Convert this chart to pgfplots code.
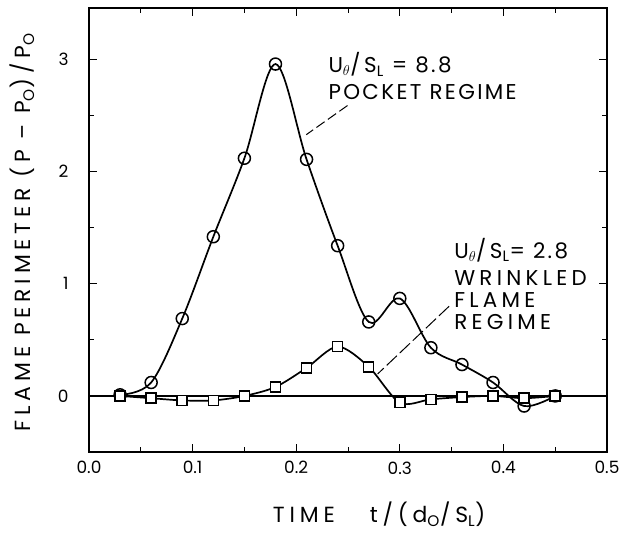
\documentclass[border=0pt]{standalone}
\usepackage{fontspec}
\setmainfont{Poppins}
\newfontfamily\lab[LetterSpace=22]{Poppins}
\newfontfamily\ann[LetterSpace=11]{Poppins}
\newfontfamily\annw[LetterSpace=20]{Poppins}
\usepackage{pgfplots}
\pgfplotsset{compat=1.18}
\newcommand{\sub}[1]{\textsubscript{#1}}

\begin{document}
\begin{tikzpicture}
  \begin{axis}[
    name=ax,
    scale only axis,
    width=518bp, height=444bp,
    xmin=0, xmax=0.5, ymin=-0.5, ymax=3.46,
    xtick={0,0.1,0.2,0.3,0.4,0.5},
    xticklabels={0.0,0.1,0.2,0.3,0.4,0.5},
    ytick={0,1,2,3},
    yticklabels={0,1,2,3},
    minor x tick num=1, minor y tick num=1,
    tick align=inside,
    major tick length=8bp, minor tick length=5bp,
    axis line style={line width=1.1bp},
    tick style={line width=1bp, black},
    tick label style={font=\fontsize{17}{20}\selectfont},
    xticklabel style={yshift=-6bp},
    yticklabel style={xshift=-17bp},
    xlabel={\lab TIME\hspace{1.6em}t/(d\sub{O}/S\sub{L})},
    ylabel={\lab FLAME PERIMETER (P – P\sub{O})/P\sub{O}},
    label style={font=\fontsize{22}{25}\selectfont},
    xlabel style={at={(axis description cs:0.56,-0.141)}, anchor=center},
    ylabel style={at={(axis description cs:-0.129,0.495)}, anchor=center},
    clip=false,
  ]
    % zero line
    \addplot[black, line width=1.2bp] coordinates {(0,0) (0.5,0)};

    % pocket regime, U/S = 8.8
    \addplot[black, line width=1.7bp, smooth, tension=0.55,
      mark=o, mark size=6bp, mark options={fill=white, line width=1.5bp}]
      coordinates {(0.03,0.01) (0.06,0.12) (0.09,0.69) (0.12,1.42) (0.15,2.12)
        (0.18,2.96) (0.21,2.11) (0.24,1.34) (0.27,0.66) (0.30,0.87)
        (0.33,0.43) (0.36,0.28) (0.39,0.12) (0.42,-0.09) (0.45,0.0)};

    % wrinkled flame regime, U/S = 2.8
    \addplot[black, line width=1.7bp, smooth, tension=0.5,
      mark=square*, mark size=5bp, mark options={fill=white, line width=1.5bp}]
      coordinates {(0.03,0.0) (0.06,-0.02) (0.09,-0.04) (0.12,-0.04) (0.15,0.0)
        (0.18,0.08) (0.21,0.25) (0.24,0.44) (0.27,0.26) (0.30,-0.06)
        (0.33,-0.03) (0.36,-0.01) (0.39,0.0) (0.42,-0.02) (0.45,0.0)};

    % leaders
    \draw[line width=1bp, dash pattern=on 10bp off 4bp]
      (axis cs:0.2495,2.59) -- (axis cs:0.2097,2.33);
    \draw[line width=1bp, dash pattern=on 14bp off 4bp]
      (axis cs:0.3476,0.80) -- (axis cs:0.2786,0.196);

    % labels
    \begin{scope}[font=\fontsize{21.5}{24}\selectfont]
      \node[anchor=west, inner sep=0pt] at (axis cs:0.231,2.956)
        {\ann U\sub{$\theta$}/\,S\sub{L} = 8.8};
      \node[anchor=west, inner sep=0pt] at (axis cs:0.231,2.707)
        {\ann POCKET REGIME};
      \node[anchor=west, inner sep=0pt] at (axis cs:0.3524,1.30)
        {\ann U\sub{$\theta$}/\,S\sub{L}= 2.8};
      \node[anchor=west, inner sep=0pt] at (axis cs:0.3524,1.05)
        {\annw WRINKLED};
      \node[anchor=west, inner sep=0pt] at (axis cs:0.3524,0.855)
        {\annw FLAME};
      \node[anchor=west, inner sep=0pt] at (axis cs:0.3524,0.66)
        {\annw REGIME};
    \end{scope}
  \end{axis}
  \pgfresetboundingbox
  \path (ax.south west) ++(-89bp,-83bp) rectangle (ax.north east) ++(14bp,8bp);
\end{tikzpicture}
\end{document}
